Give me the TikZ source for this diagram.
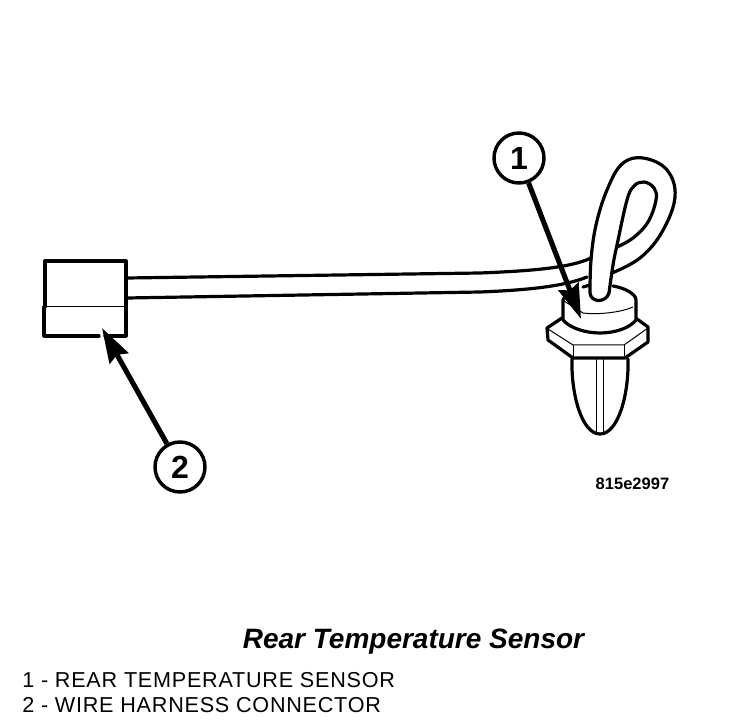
\documentclass[tikz,border=0pt]{standalone}
\usepackage{fontspec}
\setmainfont{Liberation Sans}
\usetikzlibrary{arrows.meta}
\tikzset{
  px/.style={x=0.75pt,y=-0.75pt},
  thick line/.style={line width=2.4pt,line cap=round,line join=round},
  thin line/.style={line width=0.75pt},
  callout/.style={circle,draw,fill=white,line width=2.6pt,minimum size=37.5pt,inner sep=0pt,font=\bfseries\fontsize{24}{24}\selectfont},
  leader/.style={line width=3.8pt,-{Stealth[length=26pt,width=16pt,inset=3pt]}},
  legend/.style={anchor=west,inner sep=0pt,font=\addfontfeature{LetterSpace=3.5}\fontsize{16.2}{17}\selectfont},
}
\begin{document}
\begin{tikzpicture}[px]
\useasboundingbox (0,0) rectangle (736,720);
% connector box
\draw[thick line] (45,307) -- (45,261) -- (126,261) -- (126,336) -- (105,336);
\draw[thick line] (99,336) -- (44,336) -- (44,307);
\draw[thin line] (44,307) -- (126,307);
% harness wires
\draw[thick line] (127,278) -- (480,273) .. controls (530,271) and (570,268) .. (591,258);
\draw[thick line] (127,298) -- (480,292) .. controls (530,290) and (565,286) .. (587,277);
% loop
\draw[thick line] plot[smooth,tension=.65] coordinates {(612,273) (640,258) (662,232) (675,197) (667,170) (643,158) (622,164) (607,190) (596,225) (591,260) (590,293)}
  .. controls (591,303) and (606,303) .. (609,293);
\draw[thick line] plot[smooth,tension=.65] coordinates {(609,293) (613,265) (617,245) (627,200) (634,186) (644,182) (654,188) (656,200) (648,222) (633,238) (617,247)};
% sensor cap
\draw[thick line] (563,300) -- (563,320) .. controls (570,328) and (585,333) .. (600,333) .. controls (615,333) and (630,328) .. (636,320) -- (636,300) .. controls (636,294) and (625,288) .. (613,286);
\draw[thick line] (563,300) .. controls (565,295) and (570,292) .. (574,290);
\draw[thick line] (583,287) -- (590,285);
\draw[thin line] (564,301) -- (583,313) .. controls (600,315) and (622,312) .. (633,307);
% hex nut
\draw[thick line] (562,318) -- (547,328) -- (548,340) -- (573,358) -- (625,358) -- (648,342) -- (648,327) -- (637,319);
\draw[thin line] (548,329) -- (573,345) -- (624,345) -- (648,328);
\draw[thin line] (573,345) -- (573,358) (624,345) -- (624,358);
% bullet tip
\draw[thick line] (572,359) .. controls (571,395) and (582,434) .. (600,434) .. controls (618,434) and (629,395) .. (628,359);
\draw[thin line] (596.5,358) -- (596.5,433) (603,358) -- (603,433);
% callouts
\coordinate (tip1) at (581,319);
\coordinate (tip2) at (102,328);
\node[callout] (c1) at (519,158) {1};
\node[callout] (c2) at (180,467) {2};
\draw[leader] (c1) -- (tip1);
\draw[leader] (c2) -- (tip2);
% text
\node[anchor=center,inner sep=0pt,font=\bfseries\fontsize{12.4}{13}\selectfont] (code) at (632.5,484) {815e2997};
\node[anchor=center,inner sep=0pt,font=\bfseries\itshape\fontsize{21}{22}\selectfont] (title) at (413.5,642) {Rear Temperature Sensor};
\node[legend] (l1) at (22,680) {1 - REAR TEMPERATURE SENSOR};
\node[legend] (l2) at (22,705) {2 - WIRE HARNESS CONNECTOR};
\end{tikzpicture}
\end{document}
